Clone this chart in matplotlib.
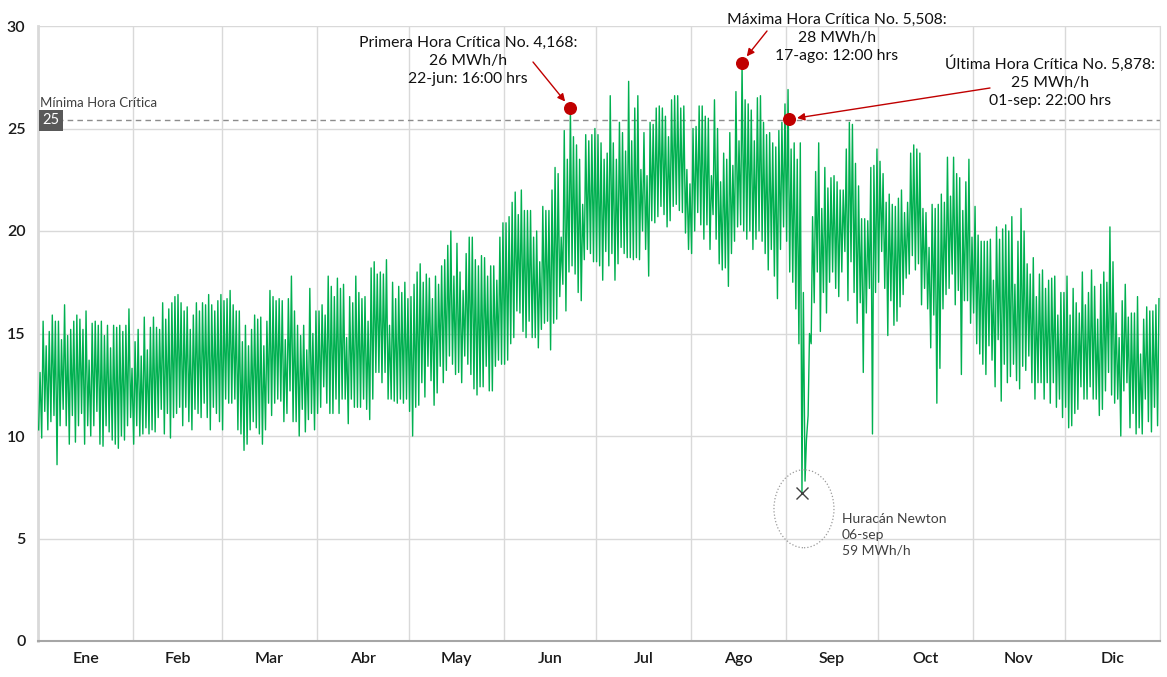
#curva de demanda horaria 2016 con horas criticas
import numpy as np
import matplotlib.pyplot as plt
from matplotlib.patches import Ellipse

plt.rcParams['font.family'] = ['Lato', 'DejaVu Sans']

meses = ['Ene', 'Feb', 'Mar', 'Abr', 'May', 'Jun', 'Jul', 'Ago', 'Sep', 'Oct', 'Nov', 'Dic']
dias_mes = [31, 29, 31, 30, 31, 30, 31, 31, 30, 31, 30, 31]

# maximo y minimo diario (MWh/h)
max_ene = [13.1, 15.6, 14.4, 15.1, 15.9, 15.6, 15.6, 14.7, 16.4, 14.9, 15.2, 15.6, 15.9, 15.7, 15.2, 16.1,
           13.7, 15.5, 15.6, 15.4, 15.6, 14.9, 15.4, 14.3, 15.4, 15.3, 15.4, 15.1, 15.4, 16.2, 13.3]
min_ene = [10.3, 9.9, 11.2, 10.3, 10.7, 11.0, 8.6, 10.5, 11.3, 10.5, 9.6, 11.0, 9.7, 10.5, 11.1, 9.6,
           10.5, 10.0, 10.5, 11.2, 9.6, 9.5, 10.5, 10.2, 9.8, 9.6, 9.4, 10.0, 9.8, 10.5, 10.9]
max_feb = [14.6, 15.2, 13.9, 15.8, 14.2, 15.3, 15.8, 15.3, 15.2, 16.5, 15.7, 16.2, 16.5, 16.8, 16.9,
           16.5, 16.1, 16.3, 15.2, 15.9, 16.5, 16.1, 16.5, 16.4, 16.9, 16.4, 16.1, 16.6, 16.9]
min_feb = [9.6, 10.5, 10.0, 10.1, 10.4, 10.1, 10.3, 10.2, 10.9, 11.3, 10.1, 11.1, 9.9, 10.9, 11.1,
           11.4, 10.5, 11.4, 10.7, 10.3, 11.3, 11.1, 10.9, 11.6, 10.9, 10.3, 11.4, 11.1, 10.7]
max_mar = [16.6, 16.7, 17.1, 16.4, 16.1, 16.1, 14.6, 15.4, 14.4, 15.2, 15.9, 15.7, 15.8, 14.4, 15.6, 17.1,
           16.8, 16.6, 16.7, 16.6, 14.7, 16.7, 17.8, 16.1, 15.4, 14.9, 15.4, 14.2, 17.2, 15.0, 16.1]
min_mar = [10.3, 11.8, 11.6, 11.6, 11.8, 10.3, 10.1, 9.3, 9.6, 10.3, 10.7, 10.4, 10.1, 9.6, 10.3, 11.6,
           11.0, 11.6, 11.8, 11.7, 10.7, 11.1, 12.2, 10.7, 10.7, 10.0, 11.3, 10.2, 10.8, 11.1, 10.3]
max_abr = [16.1, 16.4, 15.9, 17.8, 17.3, 16.8, 17.7, 17.2, 17.4, 14.8, 16.8, 16.5, 17.8, 17.0, 16.7,
           16.8, 15.6, 18.2, 18.5, 17.9, 18.0, 17.9, 18.6, 15.4, 17.5, 16.7, 17.3, 17.0, 17.5, 16.7]
min_abr = [11.1, 11.4, 12.4, 11.6, 11.1, 11.1, 11.8, 11.1, 11.8, 11.8, 10.6, 11.8, 11.4, 11.4, 11.4,
           11.8, 11.3, 10.8, 11.8, 13.1, 13.1, 12.6, 13.1, 11.8, 11.8, 11.7, 11.6, 11.8, 11.6, 11.8]
max_may = [16.8, 17.4, 18.0, 18.4, 17.5, 17.9, 17.7, 16.7, 17.8, 17.4, 18.3, 18.6, 19.3, 20.0, 17.8, 19.4,
           18.0, 17.1, 18.9, 19.7, 19.7, 18.6, 18.3, 18.8, 18.7, 17.8, 18.3, 18.3, 17.6, 19.7, 20.4]
min_may = [11.2, 10.0, 11.4, 11.5, 12.6, 11.9, 13.4, 12.7, 11.5, 12.1, 13.4, 12.6, 13.2, 13.9, 13.5, 13.0,
           13.1, 12.6, 13.9, 13.5, 13.0, 12.3, 12.0, 12.4, 12.4, 13.4, 12.2, 12.2, 13.4, 13.7, 13.5]
max_jun = [20.4, 20.7, 21.4, 21.9, 20.8, 22.0, 21.0, 21.0, 21.0, 19.7, 20.0, 18.5, 21.2, 21.0, 21.0,
           22.0, 23.1, 22.8, 19.7, 24.9, 23.5, 26.0, 24.6, 24.2, 23.5, 21.3, 24.7, 24.4, 24.7, 25.0]
min_jun = [13.5, 13.7, 14.5, 14.8, 16.1, 16.0, 15.1, 14.8, 15.6, 14.8, 14.8, 14.3, 15.2, 15.5, 15.6,
           14.2, 15.5, 15.7, 16.8, 17.4, 16.1, 18.0, 18.3, 17.9, 17.0, 16.6, 18.6, 19.1, 18.9, 18.5]
max_jul = [24.7, 24.3, 23.5, 23.8, 26.6, 24.3, 23.5, 25.3, 24.8, 23.9, 27.3, 24.4, 26.0, 26.6, 23.0, 24.8,
           22.7, 25.3, 25.2, 26.0, 26.1, 26.0, 25.6, 24.6, 26.4, 26.6, 26.6, 26.0, 26.1, 23.0, 22.3]
min_jul = [18.5, 18.3, 17.6, 19.0, 18.3, 18.9, 17.6, 18.4, 19.2, 18.9, 18.7, 18.7, 18.6, 18.7, 18.6, 20.0,
           19.1, 17.8, 20.5, 20.4, 20.7, 21.2, 20.8, 20.2, 20.5, 21.2, 21.3, 21.0, 20.9, 19.9, 19.1]
max_ago = [25.0, 25.1, 26.1, 26.1, 25.6, 25.5, 22.7, 26.4, 25.0, 22.4, 23.8, 23.5, 24.8, 23.2, 26.8, 24.4,
           28.2, 26.4, 26.2, 25.9, 24.4, 26.5, 26.6, 25.3, 24.7, 24.8, 24.3, 24.1, 24.9, 25.3, 26.2]
min_ago = [18.9, 20.0, 20.9, 20.3, 19.6, 20.3, 19.1, 20.8, 19.6, 18.4, 18.1, 18.2, 17.3, 18.9, 19.5, 20.2,
           20.3, 20.0, 19.6, 20.0, 19.1, 19.6, 20.0, 19.5, 18.9, 18.1, 19.1, 17.8, 16.7, 19.1, 20.2]
max_sep = [26.9, 24.0, 24.3, 23.5, 24.3, 17.0, 9.8, 15.0, 20.7, 22.9, 24.3, 21.1, 23.1, 22.1, 22.6,
           22.7, 22.4, 22.0, 22.0, 24.0, 25.3, 25.2, 23.3, 22.2, 20.6, 20.6, 20.5, 23.1, 23.2, 24.0]
min_sep = [19.5, 18.0, 17.5, 16.2, 14.5, 7.2, 7.8, 11.0, 14.5, 16.5, 18.0, 15.1, 17.0, 16.0, 17.5,
           18.0, 17.2, 16.8, 18.0, 19.0, 16.6, 18.5, 17.0, 15.5, 16.5, 13.1, 16.0, 17.2, 10.1, 17.0]
max_oct = [23.4, 22.8, 21.4, 21.8, 21.3, 21.2, 21.6, 22.0, 20.9, 21.4, 23.8, 24.2, 24.0, 23.8, 21.1, 20.9,
           19.2, 21.3, 21.1, 21.3, 21.8, 21.4, 23.6, 21.7, 23.6, 22.8, 22.6, 21.0, 22.4, 23.5, 19.7]
min_oct = [17.5, 19.0, 17.2, 14.9, 16.6, 15.4, 15.6, 16.3, 16.9, 17.7, 17.9, 18.8, 18.1, 18.4, 16.4, 17.2,
           16.2, 14.3, 15.9, 11.6, 13.3, 16.2, 16.9, 17.2, 17.9, 16.4, 17.1, 13.0, 16.6, 16.6, 15.5]
max_nov = [21.2, 19.8, 19.5, 19.5, 19.5, 19.6, 17.6, 20.2, 19.6, 20.1, 20.3, 20.0, 20.7, 17.4, 19.5,
           21.1, 20.0, 18.4, 17.9, 18.7, 16.8, 17.9, 18.1, 17.2, 17.6, 17.7, 17.8, 15.9, 17.0, 17.0]
min_nov = [16.0, 14.5, 14.0, 13.5, 13.0, 14.4, 13.7, 12.4, 14.7, 11.7, 13.5, 12.6, 12.9, 13.5, 12.7,
           12.3, 13.4, 13.2, 13.9, 12.6, 11.8, 12.6, 12.6, 11.8, 12.6, 11.6, 12.6, 11.4, 11.8, 10.9]
max_dic = [17.8, 15.9, 17.2, 16.5, 16.0, 18.0, 16.4, 17.0, 18.1, 17.3, 15.7, 17.4, 18.0, 17.5, 20.2, 18.5,
           16.0, 14.8, 16.6, 17.4, 15.8, 16.0, 16.0, 16.8, 14.0, 15.7, 16.3, 16.1, 16.1, 16.4, 16.7]
min_dic = [11.4, 10.4, 10.5, 11.1, 11.3, 12.4, 11.8, 11.8, 12.4, 11.8, 11.8, 11.0, 11.3, 12.2, 13.1, 12.0,
           11.6, 11.8, 10.0, 12.2, 12.6, 10.4, 11.1, 10.1, 10.4, 10.1, 11.8, 10.7, 10.2, 11.4, 10.5]

# horas criticas anotadas
horas_criticas = [4168, 5508, 5878]
valores_criticos = [26.0, 28.2, 25.45]
umbral = 25.4

maximos = np.concatenate([max_ene, max_feb, max_mar, max_abr, max_may, max_jun,
                          max_jul, max_ago, max_sep, max_oct, max_nov, max_dic])
minimos = np.concatenate([min_ene, min_feb, min_mar, min_abr, min_may, min_jun,
                          min_jul, min_ago, min_sep, min_oct, min_nov, min_dic])
assert len(maximos) == len(minimos) == sum(dias_mes)

dia = np.arange(len(maximos))
horas = np.empty(2 * len(dia))
demanda = np.empty(2 * len(dia))
horas[0::2] = dia * 24 + 5      # minimo de madrugada
horas[1::2] = dia * 24 + 16     # maximo de la tarde
demanda[0::2] = minimos
demanda[1::2] = maximos

fig = plt.figure(figsize=(11.67, 6.77), dpi=100)
ax = fig.add_axes([38 / 1167, 36 / 677, 1122 / 1167, 615 / 677])

limites = np.cumsum([0] + dias_mes) * 24
centros = (limites[:-1] + limites[1:]) / 2
total = limites[-1]

ax.plot(horas, demanda, color='#00b050', lw=1.0, zorder=3)

ax.set_xlim(0, total)
ax.set_ylim(0, 30)
ax.set_yticks(range(0, 31, 5))
ax.set_xticks(limites)
ax.set_xticklabels([])
ax.set_xticks(centros, minor=True)
ax.set_xticklabels(meses, minor=True)
ax.tick_params(which='both', length=0)
ax.tick_params(axis='x', which='minor', pad=8, labelsize=11.5, labelcolor='#1a1a1a')
ax.tick_params(axis='y', pad=9, labelsize=11.5, labelcolor='#1a1a1a')
for t in ax.get_xticklabels(minor=True) + ax.get_yticklabels():
    t.set_fontweight('semibold')
ax.grid(True, which='major', color='#d9d9d9', lw=1)
ax.set_axisbelow(True)
ax.spines['top'].set_visible(False)
ax.spines['right'].set_color('#d9d9d9')
ax.spines['left'].set_color('#d9d9d9')
ax.spines['left'].set_linewidth(2)
ax.spines['bottom'].set_color('#a6a6a6')
ax.spines['bottom'].set_linewidth(1.5)

# umbral de hora critica
ax.axhline(umbral, color='#8c8c8c', ls=(0, (4, 3)), lw=1, zorder=2)
ax.text(0.0115, umbral, '25', transform=ax.get_yaxis_transform(), ha='center', va='center',
        color='white', fontsize=10.5,
        bbox=dict(facecolor='#595959', edgecolor='none', boxstyle='square,pad=0.25'), zorder=5)
ax.text(0.002, umbral + 0.85, 'Mínima Hora Crítica', transform=ax.get_yaxis_transform(),
        ha='left', va='center', color='#404040', fontsize=9.5)

# puntos criticos
ax.scatter(horas_criticas, valores_criticos, s=70, color='#c00000', zorder=6)

def px_h(px):
    return (px - 38) / 1122 * total

def px_v(py):
    return (641 - py) / 20.5

textos = ['Primera Hora Crítica No. 4,168:\n26 MWh/h\n22-jun: 16:00 hrs',
          'Máxima Hora Crítica No. 5,508:\n28 MWh/h\n17-ago: 12:00 hrs',
          'Última Hora Crítica No. 5,878:\n25 MWh/h\n01-sep: 22:00 hrs']
pos_texto = [(468, 61), (837, 38), (1050, 82)]
colas = [(533, 62), (767, 31), (990, 88)]
for txt, (tx, ty), (cx, cy), h, v in zip(textos, pos_texto, colas, horas_criticas, valores_criticos):
    ax.text(px_h(tx), px_v(ty), txt, ha='center', va='center', fontsize=11.3,
            color='#111111', linespacing=1.38, zorder=7)
    ax.annotate('', xy=(h, v), xytext=(px_h(cx), px_v(cy)),
                arrowprops=dict(arrowstyle='-|>', color='#c00000', lw=1,
                                mutation_scale=11, shrinkA=0, shrinkB=6), zorder=7)

# huracan Newton
i_min = np.argmin(demanda)
ax.plot(horas[i_min], demanda[i_min], marker='x', color='#404040', ms=9, mew=1, zorder=6)
ax.add_patch(Ellipse((horas[i_min] + px_h(40) - px_h(38), demanda[i_min] - 0.75),
                     width=px_h(98), height=3.8,
                     fill=False, edgecolor='#9a9a9a', ls=':', lw=0.9, zorder=4))
ax.text(px_h(842), px_v(535), 'Huracán Newton\n06-sep\n59 MWh/h', ha='left', va='center',
        fontsize=10, color='#404040', linespacing=1.38)

plt.savefig('out.png', dpi=100)
